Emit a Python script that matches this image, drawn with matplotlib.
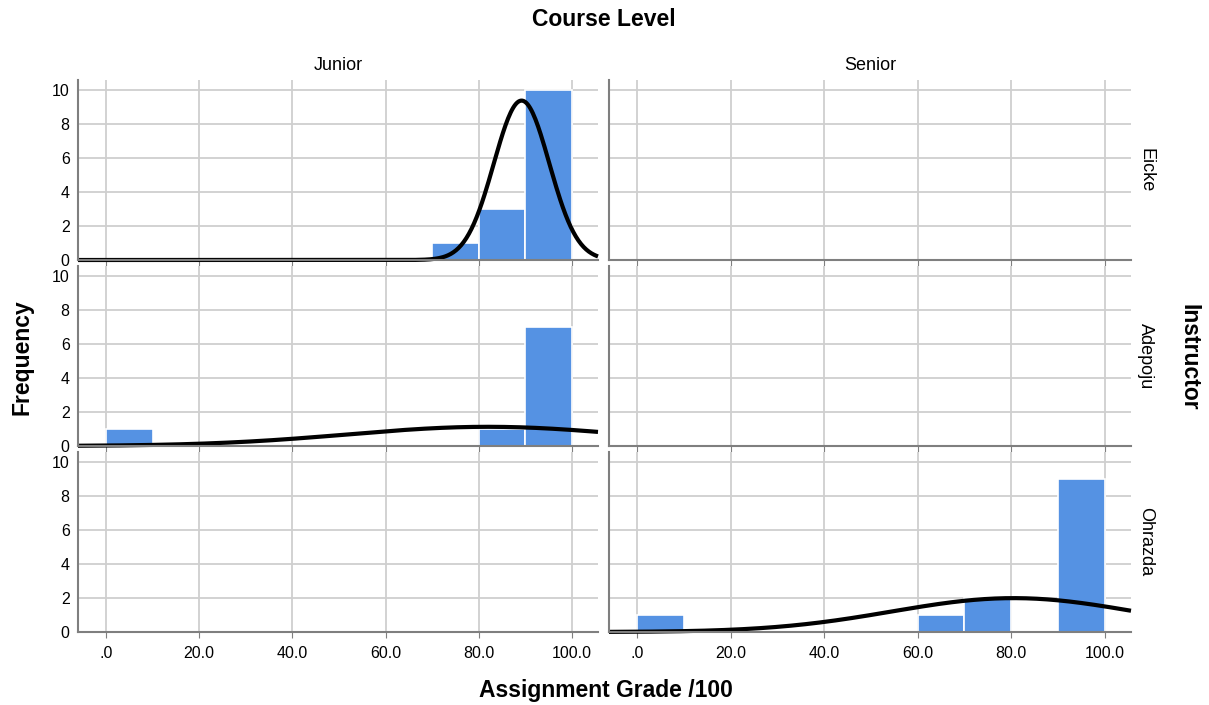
import numpy as np
import matplotlib
matplotlib.use("Agg")
import matplotlib.pyplot as plt

plt.rcParams['font.family'] = ['Liberation Sans', 'DejaVu Sans']

# Facet layout
course_levels = ["Junior", "Senior"]
instructors = ["Eicke", "Adepoju", "Ohrazda"]

# Histogram bins (assignment grade, width 10)
bin_edges = [0, 10, 20, 30, 40, 50, 60, 70, 80, 90, 100]

# Counts per bin for each (instructor, course level) cell
counts = {
    ("Eicke", "Junior"):   [0, 0, 0, 0, 0, 0, 0, 1, 3, 10],
    ("Eicke", "Senior"):   None,
    ("Adepoju", "Junior"): [1, 0, 0, 0, 0, 0, 0, 0, 1, 7],
    ("Adepoju", "Senior"): None,
    ("Ohrazda", "Junior"): None,
    ("Ohrazda", "Senior"): [1, 0, 0, 0, 0, 0, 1, 2, 0, 9],
}

# Fitted normal curves: (mean, std dev, n)
normal_fit = {
    ("Eicke", "Junior"):   (89.2, 5.95, 14),
    ("Adepoju", "Junior"): (82.0, 30.0, 8.5),
    ("Ohrazda", "Senior"): (80.5, 26.0, 13),
}

x_ticks = [0, 20, 40, 60, 80, 100]
x_tick_labels = [".0", "20.0", "40.0", "60.0", "80.0", "100.0"]
y_ticks = [0, 2, 4, 6, 8, 10]

W, H = 1209, 705
fig = plt.figure(figsize=(W / 100, H / 100), dpi=100)

col_x = [(78, 520), (609, 522)]
row_bottom = [260, 446, 632]
panel_h = 180

bar_color = "#5592E3"
grid_color = "#CFCFCF"
spine_color = "#7F7F7F"

for r, inst in enumerate(instructors):
    for c, lvl in enumerate(course_levels):
        x0, w = col_x[c]
        ax = fig.add_axes([x0 / W, 1 - row_bottom[r] / H, w / W, panel_h / H])
        ax.set_xlim(-6, 105.6)
        ax.set_ylim(0, 10.6)
        ax.set_axisbelow(True)
        ax.grid(True, color=grid_color, linewidth=1.3)
        for s in ["top", "right"]:
            ax.spines[s].set_visible(False)
        for s in ["left", "bottom"]:
            ax.spines[s].set_color(spine_color)
            ax.spines[s].set_linewidth(1.5)
        ax.set_xticks(x_ticks)
        ax.set_yticks(y_ticks)
        ax.tick_params(axis="y", length=0, labelsize=11.5, pad=6,
                       labelleft=(c == 0))
        ax.tick_params(axis="x", length=4, color=spine_color, labelsize=11.5,
                       labelbottom=(r == 2), pad=6)
        if r == 2:
            ax.set_xticklabels(x_tick_labels)

        data = counts[(inst, lvl)]
        if data is not None:
            lefts = bin_edges[:-1]
            widths = np.diff(bin_edges)
            ax.bar(lefts, data, width=widths, align="edge", color=bar_color,
                   edgecolor="white", linewidth=1.2)
        fit = normal_fit.get((inst, lvl))
        if fit is not None:
            mu, sd, n = fit
            xs = np.linspace(-6, 105.6, 400)
            ys = n * 10 * np.exp(-0.5 * ((xs - mu) / sd) ** 2) / (sd * np.sqrt(2 * np.pi))
            ax.plot(xs, ys, color="black", linewidth=3, clip_on=False,
                    solid_capstyle="butt")

        if r == 0:
            ax.set_title(lvl, fontsize=13, pad=7)
        if c == 1:
            ax.text(1.012, 0.5, inst, transform=ax.transAxes, rotation=270,
                    va="center", ha="left", fontsize=13)

fig.text(604 / W, 1 - 20 / H, "Course Level", ha="center", va="center",
         fontsize=16.5, fontweight="bold")
fig.text(606 / W, 1 - 690 / H, "Assignment Grade /100", ha="center",
         va="center", fontsize=16.5, fontweight="bold")
fig.text(22 / W, 1 - 357 / H, "Frequency", ha="center", va="center",
         rotation=90, fontsize=16.5, fontweight="bold")
fig.text(1189 / W, 1 - 357 / H, "Instructor", ha="center", va="center",
         rotation=270, fontsize=16.5, fontweight="bold")

fig.savefig("out.png", dpi=100)
